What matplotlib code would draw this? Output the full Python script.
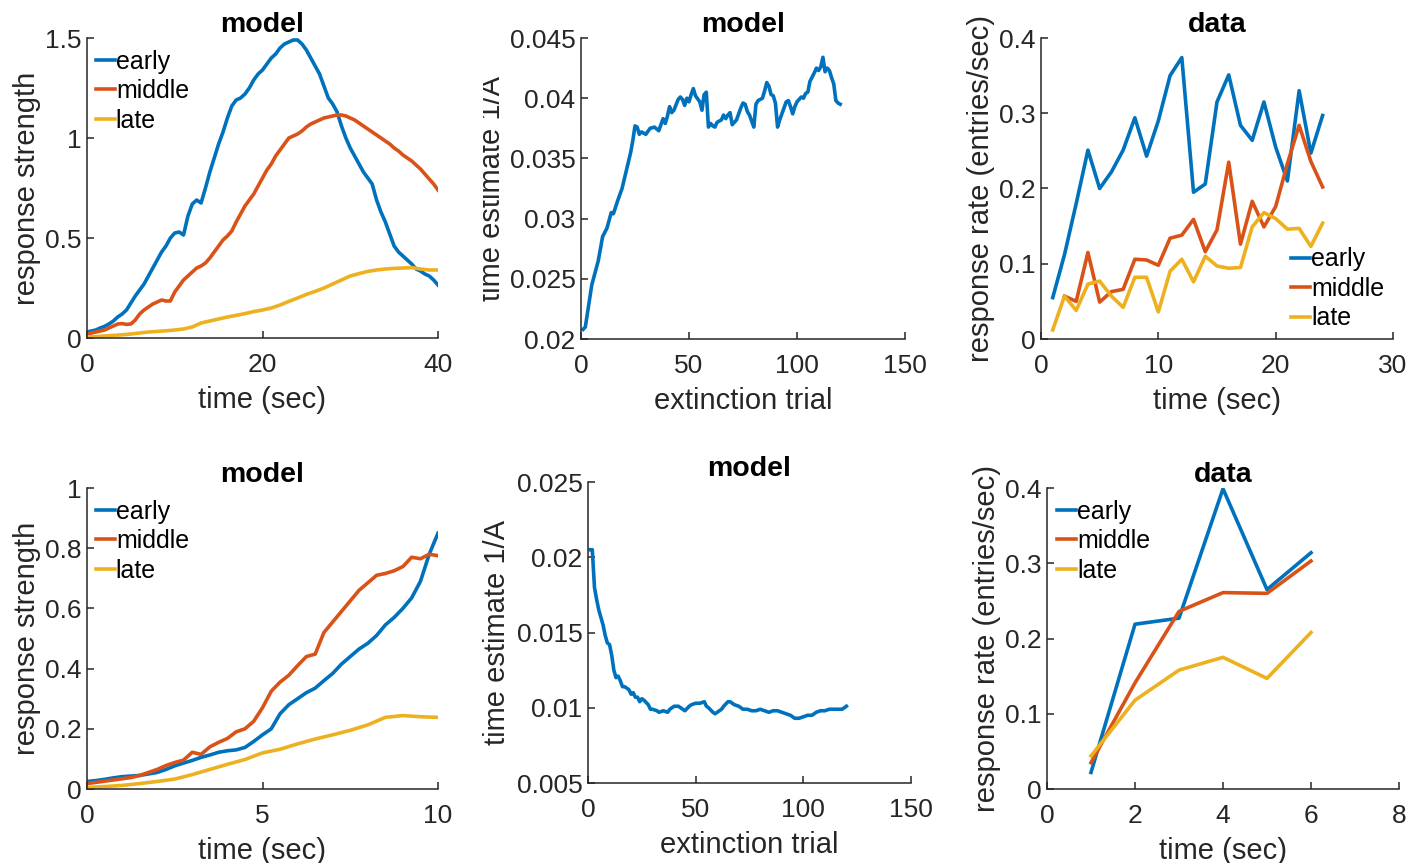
import numpy as np
import matplotlib.pyplot as plt
from matplotlib.ticker import FuncFormatter
from matplotlib.transforms import Bbox

plt.rcParams['font.family'] = ['Liberation Sans', 'DejaVu Sans']

c_early = '#0072BD'
c_middle = '#D95319'
c_late = '#EDB120'
ink = '#262626'

# panel 1: model, long interval (0..40 s, 0.5 s steps; late in 1 s steps)
p1_early = [0.03, 0.035, 0.04, 0.05, 0.058, 0.07, 0.085, 0.105, 0.12, 0.14,
            0.175, 0.21, 0.24, 0.27, 0.31, 0.35, 0.39, 0.43, 0.46, 0.50,
            0.525, 0.53, 0.515, 0.61, 0.67, 0.69, 0.675, 0.75, 0.83, 0.90,
            0.97, 1.03, 1.10, 1.16, 1.19, 1.20, 1.22, 1.25, 1.29, 1.32,
            1.34, 1.37, 1.40, 1.42, 1.45, 1.47, 1.48, 1.49, 1.49, 1.47,
            1.44, 1.40, 1.36, 1.32, 1.26, 1.20, 1.17, 1.13, 1.06, 1.00,
            0.95, 0.91, 0.87, 0.83, 0.80, 0.77, 0.69, 0.63, 0.58, 0.52,
            0.46, 0.43, 0.41, 0.39, 0.37, 0.345, 0.335, 0.32, 0.31, 0.29, 0.265]
p1_middle = [0.02, 0.025, 0.03, 0.035, 0.04, 0.05, 0.06, 0.07, 0.072, 0.068,
             0.07, 0.09, 0.12, 0.14, 0.155, 0.17, 0.18, 0.19, 0.185, 0.185,
             0.23, 0.26, 0.29, 0.31, 0.33, 0.35, 0.36, 0.375, 0.40, 0.43,
             0.46, 0.49, 0.51, 0.535, 0.58, 0.62, 0.66, 0.69, 0.72, 0.76,
             0.80, 0.84, 0.87, 0.91, 0.94, 0.97, 1.00, 1.01, 1.02, 1.035,
             1.055, 1.07, 1.08, 1.09, 1.10, 1.105, 1.11, 1.115, 1.115, 1.11,
             1.10, 1.09, 1.075, 1.06, 1.045, 1.03, 1.015, 1.00, 0.985, 0.97,
             0.95, 0.935, 0.915, 0.90, 0.885, 0.865, 0.845, 0.82, 0.795, 0.77, 0.74]
p1_late = [0.005, 0.007, 0.01, 0.013, 0.016, 0.02, 0.025, 0.03, 0.033, 0.036,
           0.04, 0.045, 0.055, 0.075, 0.085, 0.095, 0.105, 0.113, 0.122, 0.132,
           0.14, 0.15, 0.165, 0.183, 0.20, 0.218, 0.233, 0.25, 0.27, 0.29,
           0.31, 0.322, 0.333, 0.34, 0.345, 0.348, 0.35, 0.352, 0.345, 0.34, 0.34]

# panel 2: model time estimate over extinction trials
p2_trial = [1, 2, 5, 8, 10, 12, 14, 15, 17, 19, 21, 23, 24, 25, 26, 27, 28, 30,
            32, 34, 36, 38, 39, 40, 41, 42, 43, 45, 46, 47, 48, 49, 50, 51, 52,
            53, 55, 56, 57, 58, 59, 60, 61, 62, 63, 65, 66, 67, 68, 69, 70, 72,
            74, 75, 76, 77, 78, 79, 80, 81, 82, 84, 85, 86, 87, 88, 89, 90, 91,
            92, 94, 95, 96, 97, 98, 99, 100, 102, 103, 104, 105, 106, 108, 109,
            110, 111, 112, 113, 114, 115, 116, 117, 118, 119, 120]
p2_est = [0.0208, 0.021, 0.0245, 0.0265, 0.0285, 0.0292, 0.0305, 0.0304, 0.0315,
          0.0325, 0.034, 0.0355, 0.0365, 0.0377, 0.0376, 0.037, 0.0372, 0.037,
          0.0375, 0.0376, 0.0373, 0.0383, 0.0379, 0.0385, 0.0393, 0.0388, 0.039,
          0.0399, 0.0401, 0.0399, 0.0394, 0.04, 0.0397, 0.0403, 0.0408, 0.0402,
          0.0397, 0.039, 0.0403, 0.0405, 0.0376, 0.0379, 0.0377, 0.0376, 0.038,
          0.0382, 0.0386, 0.0383, 0.0386, 0.0388, 0.0378, 0.0382, 0.0392, 0.0396,
          0.0395, 0.0389, 0.0386, 0.0381, 0.0376, 0.0395, 0.0398, 0.04, 0.0406,
          0.0413, 0.041, 0.0403, 0.0402, 0.0396, 0.0376, 0.0382, 0.0392, 0.0397,
          0.0398, 0.0393, 0.0387, 0.0393, 0.0397, 0.0401, 0.04, 0.0404, 0.0405,
          0.0414, 0.0421, 0.0425, 0.0423, 0.0426, 0.0434, 0.0422, 0.0425, 0.0423,
          0.0417, 0.0412, 0.0398, 0.0396, 0.0395]

# panel 3: data, long interval
p3_time = list(range(1, 25))
p3_early = [0.055, 0.112, 0.18, 0.251, 0.20, 0.222, 0.251, 0.294, 0.243, 0.29,
            0.35, 0.374, 0.195, 0.206, 0.315, 0.351, 0.284, 0.264, 0.315, 0.255,
            0.21, 0.33, 0.247, 0.297]
p3_middle = [np.nan, 0.057, 0.05, 0.115, 0.049, 0.063, 0.066, 0.106, 0.105, 0.098,
             0.134, 0.138, 0.159, 0.116, 0.145, 0.235, 0.126, 0.183, 0.149, 0.176,
             0.233, 0.284, 0.236, 0.202]
p3_late = [0.012, 0.057, 0.038, 0.073, 0.077, 0.057, 0.042, 0.082, 0.082, 0.036,
           0.09, 0.106, 0.076, 0.11, 0.097, 0.094, 0.095, 0.149, 0.168, 0.16,
           0.146, 0.147, 0.123, 0.154]

# panel 4: model, short interval (0..10 s, 0.25 s steps; late in 0.5 s steps)
p4_early = [0.025, 0.028, 0.032, 0.037, 0.041, 0.043, 0.045, 0.05, 0.055, 0.065,
            0.077, 0.086, 0.095, 0.105, 0.113, 0.122, 0.127, 0.13, 0.138, 0.158,
            0.18, 0.20, 0.25, 0.28, 0.30, 0.32, 0.335, 0.36, 0.384, 0.415,
            0.44, 0.465, 0.484, 0.51, 0.545, 0.57, 0.60, 0.635, 0.69, 0.78, 0.85]
p4_middle = [0.018, 0.022, 0.026, 0.03, 0.034, 0.038, 0.045, 0.055, 0.065, 0.078,
             0.088, 0.096, 0.122, 0.115, 0.14, 0.155, 0.168, 0.19, 0.20, 0.225,
             0.27, 0.325, 0.355, 0.378, 0.41, 0.44, 0.448, 0.52, 0.555, 0.59,
             0.625, 0.66, 0.685, 0.71, 0.716, 0.725, 0.739, 0.77, 0.765, 0.78, 0.775]
p4_late = [0.005, 0.008, 0.012, 0.018, 0.025, 0.033, 0.048, 0.065, 0.082, 0.098,
           0.12, 0.132, 0.15, 0.166, 0.18, 0.195, 0.213, 0.238, 0.244, 0.24, 0.238]

# panel 5: model time estimate, short interval
p5_trial = [1, 2, 3, 4, 5, 6, 7, 8, 9, 10, 11, 12, 13, 14, 15, 16, 17, 18, 19,
            20, 21, 22, 23, 24, 25, 26, 28, 29, 30, 32, 33, 35, 37, 38, 40, 42,
            44, 45, 47, 48, 50, 52, 54, 55, 56, 58, 59, 60, 62, 63, 65, 66, 68,
            70, 72, 74, 76, 78, 80, 82, 84, 86, 88, 90, 92, 94, 95, 96, 98, 100,
            102, 104, 106, 108, 110, 112, 114, 116, 118, 120]
p5_est = [0.0205, 0.0205, 0.018, 0.0172, 0.0165, 0.016, 0.0155, 0.0148, 0.0143,
          0.0142, 0.0135, 0.0125, 0.012, 0.0121, 0.0118, 0.0114, 0.0114, 0.0113,
          0.0112, 0.0109, 0.011, 0.0107, 0.0107, 0.0104, 0.0106, 0.0105, 0.0102,
          0.0099, 0.0099, 0.0098, 0.0097, 0.0098, 0.0097, 0.0099, 0.0101, 0.0101,
          0.0099, 0.0098, 0.0101, 0.0102, 0.0103, 0.0103, 0.0104, 0.0101, 0.01,
          0.0097, 0.0096, 0.0097, 0.0099, 0.0101, 0.0104, 0.0104, 0.0102, 0.0101,
          0.0099, 0.0099, 0.0098, 0.0098, 0.0099, 0.0098, 0.0097, 0.0098, 0.0098,
          0.0097, 0.0096, 0.0095, 0.0094, 0.0093, 0.0093, 0.0094, 0.0095, 0.0095,
          0.0097, 0.0098, 0.0098, 0.0099, 0.0099, 0.0099, 0.0099, 0.0101]

# panel 6: data, short interval
p6_time = [1, 2, 3, 4, 5, 6]
p6_early = [0.022, 0.219, 0.227, 0.399, 0.265, 0.314]
p6_middle = [0.035, 0.141, 0.236, 0.261, 0.26, 0.303]
p6_late = [0.044, 0.118, 0.158, 0.175, 0.147, 0.208]

labels = ['early', 'middle', 'late']

fig = plt.figure(figsize=(14.24, 8.63), dpi=100)

W, H = 1424, 863


def box(l, t, r, b):
    return [l / W, 1 - b / H, (r - l) / W, (b - t) / H]


ax1 = fig.add_axes(box(87, 38, 438, 338))
ax2 = fig.add_axes(box(581, 38, 905, 339))
ax3 = fig.add_axes(box(1041, 38, 1393, 339))
ax4 = fig.add_axes(box(87, 488, 438, 789))
ax5 = fig.add_axes(box(588, 482, 911, 783))
ax6 = fig.add_axes(box(1047, 488, 1399, 789))

lw = 2.6
fmt = FuncFormatter(lambda v, p: '%g' % round(v, 6))


def style(ax, title, xlabel, ylabel, xlim, ylim, xticks, yticks):
    for s in ['top', 'right']:
        ax.spines[s].set_visible(False)
    for s in ['left', 'bottom']:
        ax.spines[s].set_color(ink)
        ax.spines[s].set_linewidth(1.1)
    ax.set_xlim(xlim)
    ax.set_ylim(ylim)
    ax.set_xticks(xticks)
    ax.set_yticks(yticks)
    ax.xaxis.set_major_formatter(fmt)
    ax.yaxis.set_major_formatter(fmt)
    ax.tick_params(direction='in', length=5, width=1.1, colors=ink,
                   labelsize=19)
    ax.tick_params(axis='x', pad=11)
    ax.tick_params(axis='y', pad=4)
    ax.set_title(title, fontsize=20.5, fontweight='bold', pad=4)
    ax.set_xlabel(xlabel, fontsize=21, color=ink, labelpad=6)
    ax.set_ylabel(ylabel, fontsize=21, color=ink, labelpad=3)


def legend(ax, loc, anchor):
    ax.legend(frameon=False, fontsize=18, handlelength=0.76,
              handletextpad=0.04, labelspacing=0.22, borderpad=0.2,
              borderaxespad=0, loc=loc, bbox_to_anchor=anchor)


# top row
t1 = np.linspace(0, 40, len(p1_early))
t1l = np.linspace(0, 40, len(p1_late))
ax1.plot(t1, p1_early, color=c_early, lw=lw, label=labels[0])
ax1.plot(t1, p1_middle, color=c_middle, lw=lw, label=labels[1])
ax1.plot(t1l, p1_late, color=c_late, lw=lw, label=labels[2])
style(ax1, 'model', 'time (sec)', 'response strength', (0, 40), (0, 1.5),
      [0, 20, 40], [0, 0.5, 1, 1.5])
legend(ax1, 'upper left', (0.011, 0.978))

ax2.plot(p2_trial, p2_est, color=c_early, lw=lw)
style(ax2, 'model', 'extinction trial', 'time estimate 1/A', (0, 150),
      (0.02, 0.045), [0, 50, 100, 150],
      [0.02, 0.025, 0.03, 0.035, 0.04, 0.045])

ax3.plot(p3_time, p3_early, color=c_early, lw=lw, label=labels[0])
ax3.plot(p3_time, p3_middle, color=c_middle, lw=lw, label=labels[1])
ax3.plot(p3_time, p3_late, color=c_late, lw=lw, label=labels[2])
style(ax3, 'data', 'time (sec)', 'response rate (entries/sec)', (0, 30),
      (0, 0.4), [0, 10, 20, 30], [0, 0.1, 0.2, 0.3, 0.4])
legend(ax3, 'lower right', (0.989, 0.012))

# bottom row
t4 = np.linspace(0, 10, len(p4_early))
t4l = np.linspace(0, 10, len(p4_late))
ax4.plot(t4, p4_early, color=c_early, lw=lw, label=labels[0])
ax4.plot(t4, p4_middle, color=c_middle, lw=lw, label=labels[1])
ax4.plot(t4l, p4_late, color=c_late, lw=lw, label=labels[2])
style(ax4, 'model', 'time (sec)', 'response strength', (0, 10), (0, 1),
      [0, 5, 10], [0, 0.2, 0.4, 0.6, 0.8, 1])
legend(ax4, 'upper left', (0.011, 0.978))

ax5.plot(p5_trial, p5_est, color=c_early, lw=lw)
style(ax5, 'model', 'extinction trial', 'time estimate 1/A', (0, 150),
      (0.005, 0.025), [0, 50, 100, 150],
      [0.005, 0.01, 0.015, 0.02, 0.025])
ax5.yaxis.set_label_coords(-0.238, 0.5)

ax6.plot(p6_time, p6_early, color=c_early, lw=lw, label=labels[0])
ax6.plot(p6_time, p6_middle, color=c_middle, lw=lw, label=labels[1])
ax6.plot(p6_time, p6_late, color=c_late, lw=lw, label=labels[2])
style(ax6, 'data', 'time (sec)', 'response rate (entries/sec)', (0, 8),
      (0, 0.4), [0, 2, 4, 6, 8], [0, 0.1, 0.2, 0.3, 0.4])
legend(ax6, 'upper left', (0.014, 0.978))

# the top-middle y label is cut just above its x-height in the original
ax2.yaxis.set_label_coords(-0.232, 0.5)
lab = ax2.yaxis.label
fig.canvas.draw()
bb = lab.get_window_extent()
em = 21 * fig.dpi / 72
cut = bb.x1 - 0.78 * em
lab.set_clip_box(Bbox([[cut, 0], [W * 2, H * 2]]))
lab.set_clip_on(True)

fig.savefig('out.png', dpi=100)
